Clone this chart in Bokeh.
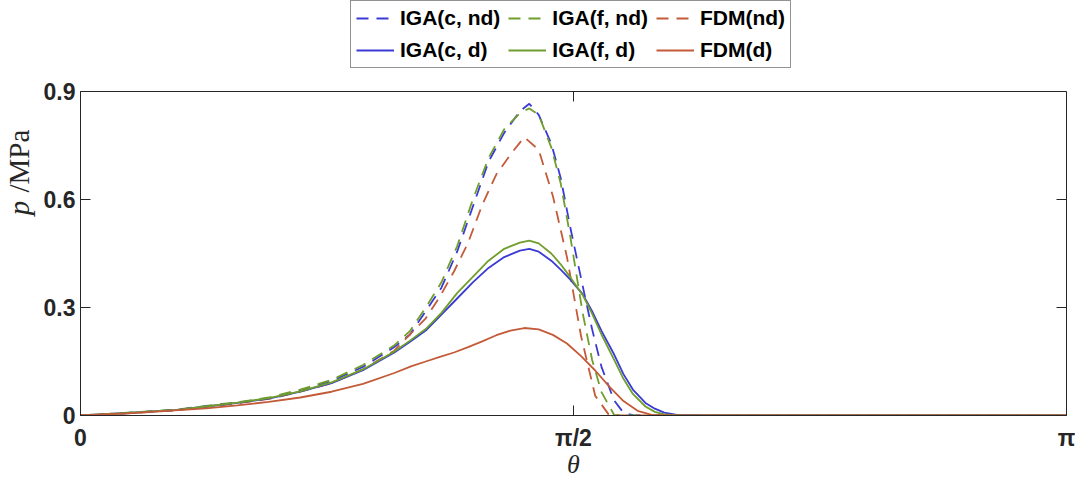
import math
from bokeh.plotting import figure
from bokeh.layouts import row, column
from bokeh.models import (Legend, LegendItem, FixedTicker, CustomJSTickFormatter, Range1d)
from bokeh.core.properties import value
from bokeh.embed import file_html
from bokeh.resources import INLINE

PI = math.pi
NAN = float("nan")

# ---------------- data ----------------
theta_iga = [0, 0.15, 0.3, 0.4, 0.5, 0.6, 0.7, 0.8, 0.9, 1.0, 1.05, 1.1, 1.15, 1.2, 1.25,
             1.3, 1.35, 1.4, 1.43, 1.46, 1.5, 1.53, 1.56, 1.6, 1.63, 1.66, 1.7, 1.73, 1.76,
             1.8, 1.83, 1.86, 1.9, 2.0, PI]
iga_c_nd = [0, 0.007, 0.015, 0.025, 0.035, 0.048, 0.069, 0.096, 0.135, 0.19, 0.225, 0.29,
            0.355, 0.455, 0.58, 0.705, 0.785, 0.845, 0.866, 0.835, 0.755, 0.66, 0.525, 0.36,
            0.24, 0.135, 0.042, 0.008, 0.001, 0, 0, 0, 0, 0, 0]
iga_f_nd = [0, 0.008, 0.016, 0.027, 0.037, 0.05, 0.072, 0.099, 0.14, 0.195, 0.235, 0.30,
            0.37, 0.47, 0.60, 0.715, 0.795, 0.84, 0.853, 0.835, 0.745, 0.645, 0.50, 0.285,
            0.155, 0.065, 0.002, 0, 0, 0, 0, 0, 0, 0, 0]
iga_c_d = [0, 0.007, 0.015, 0.025, 0.035, 0.047, 0.066, 0.09, 0.126, 0.175, 0.205, 0.236,
           0.28, 0.325, 0.37, 0.41, 0.44, 0.458, 0.463, 0.455, 0.43, 0.405, 0.378, 0.337,
           0.29, 0.235, 0.17, 0.115, 0.072, 0.035, 0.019, 0.008, 0.002, 0, 0]
iga_f_d = [0, 0.007, 0.015, 0.025, 0.036, 0.048, 0.067, 0.092, 0.128, 0.178, 0.208, 0.24,
           0.285, 0.34, 0.385, 0.43, 0.463, 0.48, 0.486, 0.478, 0.45, 0.42, 0.385, 0.335,
           0.283, 0.225, 0.155, 0.102, 0.06, 0.025, 0.01, 0.003, 0, 0, 0]

theta_fdm = [0, 0.15, 0.3, 0.4, 0.5, 0.6, 0.7, 0.8, 0.9, 1.0, 1.055, 1.1, 1.145, 1.19, 1.235,
             1.28, 1.325, 1.37, 1.414, 1.46, 1.505, 1.55, 1.595, 1.64, 1.685, 1.73, 1.775,
             1.82, 1.865, 2.0, PI]
fdm_nd = [0, 0.006, 0.014, 0.024, 0.034, 0.046, 0.066, 0.09, 0.128, 0.18, 0.23, 0.27, 0.33,
          0.40, 0.48, 0.585, 0.67, 0.725, 0.773, 0.738, 0.61, 0.44, 0.22, 0.055, 0, 0, 0,
          0, 0, 0, 0]
fdm_d = [0, 0.006, 0.014, 0.02, 0.028, 0.038, 0.05, 0.066, 0.088, 0.118, 0.137, 0.15, 0.163,
         0.175, 0.19, 0.206, 0.223, 0.236, 0.243, 0.239, 0.224, 0.2, 0.165, 0.125, 0.08,
         0.04, 0.013, 0.002, 0, 0, 0]

series_names = ["IGA(c, nd)", "IGA(f, nd)", "FDM(nd)", "IGA(c, d)", "IGA(f, d)", "FDM(d)"]
x_ticks = [0, PI / 2, PI]
y_ticks = [0, 0.3, 0.6, 0.9]
y_label_parts = ["p", "/MPa"]
x_label = "\u03b8"

# ---------------- style ----------------
BLUE = "#3a3ad4"
GREEN = "#6f9e2c"
ORANGE = "#c35a38"
AX = "#262626"
DASH = "12 8"
LW = 1.8
X0, X1, Y0, Y1 = 0, PI, 0, 0.9
FW, FH = 986, 324
TICK = 10          # px
TOP_H = 76         # legend strip height
MAIN_TOP = 15      # space above the main frame (room for the "0.9" label)
LABEL_W = 40       # y-label strip width
FRAME_LEFT = 78
TOTAL_W = 1074
MAIN_H = 399

styles = [dict(line_color=BLUE, line_dash=DASH), dict(line_color=GREEN, line_dash=DASH),
          dict(line_color=ORANGE, line_dash=DASH), dict(line_color=BLUE),
          dict(line_color=GREEN), dict(line_color=ORANGE)]

# ---- legend strip on top (legend swatches use stand-in lines with no visible points) ----
top = figure(width=TOTAL_W, height=TOP_H, x_range=Range1d(0, 1), y_range=Range1d(0, 1),
             output_backend="svg", toolbar_location=None, min_border=0,
             background_fill_color="white", border_fill_color="white")
top.axis.visible = False
top.grid.visible = False
top.outline_line_color = None
legend_rs = [top.line(x=[NAN, NAN], y=[NAN, NAN], line_width=LW, **st) for st in styles]
legend = Legend(items=[LegendItem(label=n, renderers=[r]) for n, r in zip(series_names, legend_rs)],
                location=(350, 8), orientation="horizontal", ncols=3,
                label_text_font="Liberation Sans", label_text_font_style="bold",
                label_text_font_size="21px", label_text_color="black",
                glyph_width=38, glyph_height=20, label_standoff=6, spacing=8,
                padding=5, margin=0, border_line_color=AX, border_line_width=1,
                background_fill_color="white", background_fill_alpha=1)
top.add_layout(legend)

# ---- narrow strip holding the y-axis label (p in italic, /MPa upright) ----
# its frame is aligned with the main frame; y counts px down from the frame top
lab = figure(width=LABEL_W, height=MAIN_H, x_range=Range1d(0, LABEL_W),
             y_range=Range1d(FH, 0),
             output_backend="svg", toolbar_location=None, min_border=0,
             background_fill_color="white", border_fill_color="white")
lab.axis.visible = False
lab.grid.visible = False
lab.outline_line_color = None
lab.text(x=[18], y=[126], text=[y_label_parts[0]], angle=PI / 2,
         text_font=value("Liberation Serif"), text_font_style="italic",
         text_font_size="29px", text_color=AX, text_align="left", text_baseline="middle")
lab.text(x=[18], y=[103], text=[y_label_parts[1]], angle=PI / 2,
         text_font=value("Liberation Serif"), text_font_style="normal",
         text_font_size="29px", text_color=AX, text_align="left", text_baseline="middle")

# ---- main chart ----
p = figure(frame_width=FW, frame_height=FH,
           x_range=Range1d(X0, X1), y_range=Range1d(Y0, Y1),
           output_backend="svg", toolbar_location=None,
           min_border_left=FRAME_LEFT - LABEL_W, min_border_right=10, min_border_top=MAIN_TOP,
           min_border_bottom=MAIN_H - MAIN_TOP - FH,
           background_fill_color="white", border_fill_color="white")
p.grid.visible = False
p.outline_line_color = AX
p.outline_line_width = 1

xa = p.xaxis[0]
ya = p.yaxis[0]
xa.ticker = FixedTicker(ticks=x_ticks)
xa.formatter = CustomJSTickFormatter(code="""
if (Math.abs(tick) < 1e-9) return "0";
if (Math.abs(tick - Math.PI/2) < 1e-6) return "\u03c0/2";
return "\u03c0";
""")
ya.ticker = FixedTicker(ticks=y_ticks)
ya.formatter = CustomJSTickFormatter(code="""
return Math.abs(tick) < 1e-9 ? "0" : tick.toFixed(1);
""")
for ax in (xa, ya):
    ax.major_tick_in = TICK
    ax.major_tick_out = 0
    ax.minor_tick_line_color = None
    ax.axis_line_color = AX
    ax.major_tick_line_color = AX
    ax.major_label_text_font = "Liberation Sans"
    ax.major_label_text_font_style = "bold"
    ax.major_label_text_font_size = "23px"
    ax.major_label_text_color = AX
xa.major_label_standoff = 9
ya.major_label_standoff = 5

xa.axis_label = x_label
xa.axis_label_text_font = "Liberation Serif"
xa.axis_label_text_font_style = "italic"
xa.axis_label_text_font_size = "26px"
xa.axis_label_text_color = AX
xa.axis_label_standoff = -4

# mirrored ticks on the top and right edges of the box
dy = TICK * (Y1 - Y0) / FH
dx = TICK * (X1 - X0) / FW
p.segment(x0=x_ticks, y0=[Y1] * len(x_ticks), x1=x_ticks, y1=[Y1 - dy] * len(x_ticks),
          line_color=AX, line_width=1)
p.segment(x0=[X1] * len(y_ticks), y0=y_ticks, x1=[X1 - dx] * len(y_ticks), y1=y_ticks,
          line_color=AX, line_width=1)

xs = [theta_iga, theta_iga, theta_fdm, theta_iga, theta_iga, theta_fdm]
ys = [iga_c_nd, iga_f_nd, fdm_nd, iga_c_d, iga_f_d, fdm_d]
for x, y, st in zip(xs, ys, styles):
    p.line(x, y, line_width=LW, **st)

layout = column(top, row(lab, p, spacing=0), spacing=0)
open("out.html", "w").write(file_html(layout, INLINE))
